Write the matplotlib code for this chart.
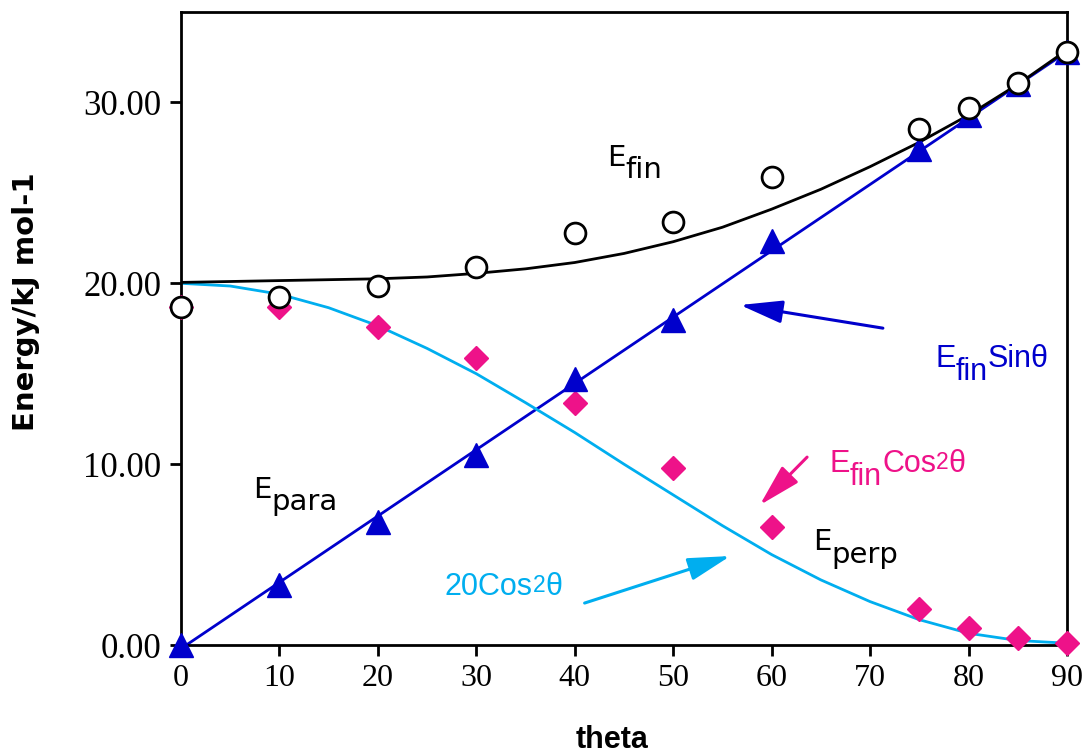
import matplotlib
matplotlib.use('Agg')
import matplotlib.pyplot as plt
from matplotlib.patches import FancyArrowPatch
from matplotlib.ticker import FormatStrFormatter

# measured points
theta = [0, 10, 20, 30, 40, 50, 60, 75, 80, 85, 90]
e_fin = [18.7, 19.25, 19.85, 20.9, 22.8, 23.4, 25.9, 28.55, 29.7, 31.05, 32.8]
e_sin = [0.0, 3.3, 6.8, 10.5, 14.7, 17.95, 22.35, 27.45, 29.3, 31.0, 32.8]
e_cos = [18.7, 18.7, 17.6, 15.85, 13.4, 9.8, 6.55, 2.0, 0.95, 0.4, 0.1]

# fitted curves
fit_theta = [0, 5, 10, 15, 20, 25, 30, 35, 40, 45, 50, 55, 60, 65, 70, 75, 80, 85, 90]
fit_fin = [20.05, 20.1, 20.15, 20.2, 20.25, 20.35, 20.55, 20.8, 21.15, 21.65, 22.3,
           23.1, 24.1, 25.2, 26.45, 27.8, 29.3, 31.0, 32.9]
cos_theta = [0, 5, 10, 15, 20, 25, 30, 35, 40, 45, 50, 55, 60, 65, 70, 75, 80, 85, 90]
cos_fit = [20.0, 19.85, 19.4, 18.65, 17.65, 16.4, 15.0, 13.4, 11.75, 10.0, 8.3,
           6.6, 5.0, 3.6, 2.4, 1.4, 0.65, 0.25, 0.1]
line_theta = [0, 90]
line_sin = [-0.2, 32.8]

BLUE = '#0000CC'
PINK = '#EE1289'
CYAN = '#00AEEF'


def rich(ax, x, y, parts, color, size, family):
    # parts: (texto, desplazamiento vertical en pt respecto a la base, escala)
    t = ax.text(x, y, parts[0][0], color=color, fontsize=size, family=family,
                va='baseline', ha='left')
    prev, prev_dy = t, 0
    for s, dy, sc in parts[1:]:
        prev = ax.annotate(s, xy=(1, 0), xycoords=prev, xytext=(0, dy - prev_dy),
                           textcoords='offset points', color=color,
                           fontsize=size * sc, family=family, va='bottom', ha='left')
        prev_dy = dy


def arrow(ax, tail, tip, color):
    a = FancyArrowPatch(tail, tip, arrowstyle='-|>,head_length=26,head_width=7',
                        mutation_scale=1, color=color, lw=2.2,
                        shrinkA=0, shrinkB=0)
    ax.add_patch(a)


fig = plt.figure(figsize=(10.85, 7.56), dpi=100)
ax = fig.add_axes([0.1668, 0.1468, 0.8166, 0.8373])

ax.plot(line_theta, line_sin, color=BLUE, lw=2, zorder=2)
ax.plot(cos_theta, cos_fit, color=CYAN, lw=2, zorder=2)
ax.plot(fit_theta, fit_fin, color='black', lw=2, zorder=2)

ax.plot(theta, e_cos, 'D', color=PINK, ms=12, mec=PINK, zorder=3, clip_on=False)
ax.plot(theta, e_sin, '^', color=BLUE, ms=17, mec=BLUE, zorder=4, clip_on=False)
ax.plot(theta, e_fin, 'o', color='white', ms=15, mec='black', mew=2, zorder=5,
        clip_on=False)

ax.set_xlim(0, 90)
ax.set_ylim(0, 35)
ax.set_xticks(range(0, 91, 10))
ax.set_yticks([0, 10, 20, 30])
ax.yaxis.set_major_formatter(FormatStrFormatter('%.2f'))
for s in ax.spines.values():
    s.set_linewidth(2)
ax.tick_params(direction='out', length=8, width=2, pad=6)
for lab in ax.get_xticklabels():
    lab.set_family('Liberation Serif')
    lab.set_fontsize(23)
for lab in ax.get_yticklabels():
    lab.set_family('Liberation Serif')
    lab.set_fontsize(25)

ax.set_xlabel('theta', family='Liberation Sans', fontweight='bold', fontsize=22)
ax.xaxis.set_label_coords(0.486, -0.126)
ax.xaxis.label.set_va('top')
ax.set_ylabel('Energy/kJ mol-1', family='DejaVu Sans', fontweight='bold',
              fontsize=21)
ax.yaxis.set_label_coords(-0.159, 0.542)

rich(ax, 43.3, 26.5, [('E', 0, 1), ('fin', -9, 1)], 'black', 21, 'DejaVu Sans')
rich(ax, 7.3, 8.13, [('E', 0, 1), ('para', -9, 1)], 'black', 21, 'DejaVu Sans')
rich(ax, 64.2, 5.25, [('E', 0, 1), ('perp', -9, 1)], 'black', 21, 'DejaVu Sans')

rich(ax, 76.6, 15.37, [('E', 0, 1), ('fin', -9, 1), ('Sinθ', 0, 1)],
     BLUE, 22, 'Liberation Sans')
rich(ax, 65.9, 9.56, [('E', 0, 1), ('fin', -9, 1), ('Cos', 0, 1), ('2', 4, 0.75),
                      ('θ', 0, 1)], PINK, 22, 'Liberation Sans')
rich(ax, 26.8, 2.76, [('20Cos', 0, 1), ('2', 4, 0.75), ('θ', 0, 1)],
     CYAN, 22, 'Liberation Sans')

arrow(ax, (71.3, 17.52), (56.8, 18.8), BLUE)
arrow(ax, (63.6, 10.39), (58.8, 7.74), PINK)
arrow(ax, (41.0, 2.32), (55.8, 4.92), CYAN)

fig.savefig('out.png', dpi=100)
